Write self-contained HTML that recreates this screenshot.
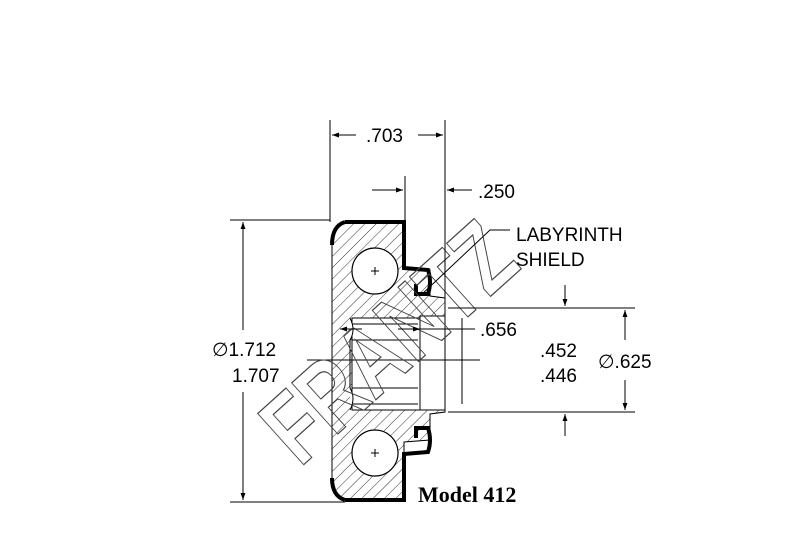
<!DOCTYPE html>
<html><head><style>body{margin:0;background:#fff}svg{display:block}</style></head><body>
<svg width="809" height="542" viewBox="0 0 809 542" xmlns="http://www.w3.org/2000/svg" font-family="Liberation Sans, sans-serif">
<defs>
<pattern id="h" width="8" height="8" patternUnits="userSpaceOnUse" patternTransform="rotate(45)"><line x1="0" y1="0" x2="0" y2="8" stroke="#000" stroke-width="0.8"/></pattern>
<marker id="a" viewBox="0 0 10 10" refX="10" refY="5" markerWidth="9" markerHeight="7" orient="auto-start-reverse"><path d="M0,1.5L10,5L0,8.5z" fill="#000"/></marker>
</defs>
<path d="M332,238 Q332,222 350,222 L404,222 L404,268 L430,270 L430,296 L445,298 L445,412 L430,414 L430,440 L404,442 L404,500 L350,500 Q332,500 332,484 Z" fill="url(#h)" stroke="#000" stroke-width="1"/>
<rect x="352" y="318" width="70" height="92" fill="#fff" stroke="#000"/>
<path d="M350,318 Q356,330 350,340 L350,388 Q356,398 350,410" fill="#fff" stroke="#000"/>
<line x1="352" y1="340" x2="418" y2="340" stroke="#000"/><line x1="352" y1="388" x2="418" y2="388" stroke="#000"/>
<line x1="352" y1="324" x2="418" y2="324" stroke="#000"/><line x1="352" y1="404" x2="418" y2="404" stroke="#000"/>
<rect x="420" y="316" width="25" height="94" fill="#fff" stroke="#000"/>
<circle cx="375" cy="271" r="23" fill="#fff" stroke="#000" stroke-width="1.2"/>
<circle cx="375" cy="453" r="23" fill="#fff" stroke="#000" stroke-width="1.2"/>
<path d="M371,271h8M375,267v8M371,453h8M375,449v8" stroke="#000"/>
<path d="M345,222 L404,222 L404,268 L428,270 Q432,282 428,294 L416,294 L416,284" fill="none" stroke="#000" stroke-width="4"/>
<path d="M345,222 Q332,226 332,245" fill="none" stroke="#000" stroke-width="4"/>
<path d="M345,500 L404,500 L404,454 L428,452 Q432,440 428,428 L416,428 L416,438" fill="none" stroke="#000" stroke-width="4"/>
<path d="M345,500 Q332,496 332,478" fill="none" stroke="#000" stroke-width="4"/>
<line x1="307" y1="360" x2="480" y2="360" stroke="#000"/>
<text x="0" y="0" transform="translate(300,468) rotate(-42)" font-size="100" font-weight="bold" textLength="300" lengthAdjust="spacingAndGlyphs" fill="none" stroke="#444" stroke-width="1.2">FRANTZ</text>
<g stroke="#000" fill="none">
<line x1="330" y1="120" x2="330" y2="222"/><line x1="445" y1="120" x2="445" y2="298"/>
<line x1="332" y1="135" x2="356" y2="135" marker-start="url(#a)"/><line x1="418" y1="135" x2="443" y2="135" marker-end="url(#a)"/>
<line x1="405" y1="176" x2="405" y2="222"/>
<line x1="372" y1="190" x2="403" y2="190" marker-end="url(#a)"/><line x1="447" y1="190" x2="472" y2="190" marker-start="url(#a)"/>
<line x1="230" y1="220" x2="330" y2="220"/><line x1="230" y1="502" x2="345" y2="502"/>
<line x1="243" y1="222" x2="243" y2="330" marker-start="url(#a)"/><line x1="243" y1="392" x2="243" y2="500" marker-end="url(#a)"/>
<polyline points="420,296 490,230 510,230"/>
<line x1="448" y1="308" x2="635" y2="308"/><line x1="448" y1="412" x2="635" y2="412"/>
<line x1="625" y1="310" x2="625" y2="340" marker-start="url(#a)"/><line x1="625" y1="380" x2="625" y2="410" marker-end="url(#a)"/>
<line x1="565" y1="285" x2="565" y2="306" marker-end="url(#a)"/><line x1="565" y1="414" x2="565" y2="436" marker-start="url(#a)"/>
<line x1="462" y1="318" x2="462" y2="404"/>
<line x1="340" y1="329" x2="362" y2="329" marker-start="url(#a)"/><line x1="398" y1="329" x2="420" y2="329" marker-end="url(#a)"/>
<line x1="420" y1="329" x2="475" y2="329"/>
</g>
<g font-size="19" fill="#000">
<text x="366" y="142">.703</text>
<text x="478" y="198">.250</text>
<text x="516" y="241">LABYRINTH</text>
<text x="516" y="266">SHIELD</text>
<text x="480" y="336">.656</text>
<text x="540" y="357">.452</text>
<text x="540" y="382">.446</text>
<text x="598" y="368">∅.625</text>
<text x="212" y="356">∅1.712</text>
<text x="232" y="382">1.707</text>
</g>
<text x="418" y="502" font-family="Liberation Serif, serif" font-weight="bold" font-size="22">Model 412</text>
</svg>
</body></html>
